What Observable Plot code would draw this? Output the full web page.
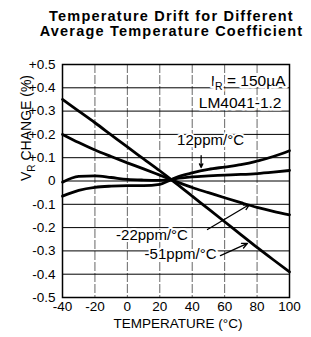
<!DOCTYPE html>
<html><head><meta charset="utf-8">
<script src="https://cdn.jsdelivr.net/npm/d3@7"></script>
<script src="https://cdn.jsdelivr.net/npm/@observablehq/plot@0.6"></script>
<style>
body{margin:0;background:#fff;}
#wrap{position:relative;width:311px;height:337px;font-family:"Liberation Sans",Arial,sans-serif;}
#title{position:absolute;left:0;width:343px;top:9px;text-align:center;font-weight:bold;font-size:14.5px;line-height:15px;letter-spacing:1.2px;color:#000;}
#chart{position:absolute;left:0;top:0;}
</style></head><body>
<div id="wrap"><div id="chart"></div><div id="title">Temperature Drift for Different<br>Average Temperature Coefficient</div></div>
<script>
const temperature = [-40,-30,-20,-10,0,10,20,27,30,40,50,60,70,80,90,100];
const driftMinus51 = [0.35,0.30,0.25,0.198,0.146,0.095,0.044,0.006,-0.01,-0.065,-0.12,-0.175,-0.23,-0.285,-0.338,-0.39];
const driftMinus22 = [0.20,0.165,0.133,0.105,0.078,0.052,0.025,0.006,-0.002,-0.028,-0.05,-0.072,-0.093,-0.113,-0.13,-0.145];
const drift12 = [-0.065,-0.04,-0.027,-0.022,-0.02,-0.02,-0.014,0.006,0.015,0.035,0.05,0.06,0.07,0.085,0.105,0.13];
const driftFlat = [-0.005,0.02,0.022,0.015,0.007,0.004,0.003,0.006,0.01,0.018,0.022,0.025,0.028,0.032,0.038,0.045];
const seriesNames = ["-51ppm/°C","-22ppm/°C","12ppm/°C","flat"];

const xTicks = [-40,-20,0,20,40,60,80,100];
const xTickLabels = ["-40","-20","0","20","40","60","80","100"];
const yTicks = [0.5,0.4,0.3,0.2,0.1,0,-0.1,-0.2,-0.3,-0.4,-0.5];
const yTickLabels = ["+0.5","+0.4","+0.3","+0.2","+0.1","0","-0.1","-0.2","-0.3","-0.4","-0.5"];

const labelText = ["12ppm/°C","-22ppm/°C","-51ppm/°C"];
const labelT = [51.3,15.2,32.8];
const labelV = [0.174,-0.234,-0.315];
const arrowT1 = [45.5,49.4,57.4];
const arrowV1 = [0.109,-0.208,-0.32];
const arrowT2 = [45.5,75.3,74.1];
const arrowV2 = [0.058,-0.101,-0.268];

const rows = [];
[driftMinus51,driftMinus22,drift12,driftFlat].forEach((vals,i)=>
  vals.forEach((v,j)=>rows.push({series:seriesNames[i],t:temperature[j],v})));
const labels = labelText.map((text,i)=>({text,t:labelT[i],v:labelV[i]}));
const arrows = arrowT1.map((t1,i)=>({t1,v1:arrowV1[i],t2:arrowT2[i],v2:arrowV2[i]}));

const plot = Plot.plot({
  width:311, height:337,
  marginTop:64, marginLeft:62, marginRight:22, marginBottom:40,
  style:{fontFamily:"Liberation Sans, Arial, sans-serif", fontSize:"13.5px", color:"black", background:"white"},
  x:{domain:[-40,100], ticks:xTicks, tickSize:0, tickPadding:4, label:null,
     tickFormat:d=>xTickLabels[xTicks.indexOf(d)]},
  y:{domain:[-0.5,0.5], ticks:yTicks, tickSize:0, tickPadding:7, label:null,
     tickFormat:d=>yTickLabels[yTicks.findIndex(t=>Math.abs(t-d)<1e-9)]},
  marks:[
    Plot.gridY(yTicks,{stroke:"black",strokeOpacity:1,strokeWidth:1}),
    Plot.gridX(xTicks,{stroke:"black",strokeOpacity:0.6,strokeWidth:1,strokeDasharray:"9,2"}),
    Plot.line(rows,{x:"t",y:"v",z:"series",stroke:"black",strokeWidth:2.8,curve:"monotone-x"}),
    Plot.text(labels,{x:"t",y:"v",text:"text",fontSize:15,fill:"black",stroke:"white",strokeWidth:4}),
    Plot.arrow(arrows,{x1:"t1",y1:"v1",x2:"t2",y2:"v2",stroke:"black",strokeWidth:1.3,headLength:7,headAngle:50}),
    Plot.text(["IR = 150µA"],{frameAnchor:"top-right",text:d=>d,textAnchor:"end",dx:-4,dy:10,fontSize:15.5,fill:"black",stroke:"white",strokeWidth:5}),
    Plot.text(["LM4041-1.2"],{frameAnchor:"top-right",text:d=>d,textAnchor:"end",dx:-8,dy:32,fontSize:15.5,fill:"black",stroke:"white",strokeWidth:5}),
    Plot.text(["VR CHANGE (%)"],{frameAnchor:"left",text:d=>d,rotate:-90,dx:-36,fontSize:14,fill:"black"}),
    Plot.text(["TEMPERATURE (°C)"],{frameAnchor:"bottom",text:d=>d,dx:2,dy:30,fontSize:13.5,fill:"black"}),
    Plot.frame({stroke:"black",strokeWidth:1.5})
  ]
});
document.getElementById("chart").appendChild(plot);

function subscript(el, main, sub, rest, size, shift){
  el.textContent = "";
  const ns = "http://www.w3.org/2000/svg";
  el.appendChild(document.createTextNode(main));
  const s = document.createElementNS(ns,"tspan");
  s.setAttribute("font-size", size); s.setAttribute("dy", shift); s.textContent = sub;
  el.appendChild(s);
  const r = document.createElementNS(ns,"tspan");
  r.setAttribute("dy", -shift); r.textContent = rest;
  el.appendChild(r);
}
for (const t of plot.querySelectorAll("text")) {
  if (t.textContent === "VR CHANGE (%)") subscript(t,"V","R"," CHANGE (%)",10,4);
  else if (t.textContent === "IR = 150µA") subscript(t,"I","R"," = 150µA",10.5,4);
}
</script>
</body></html>
